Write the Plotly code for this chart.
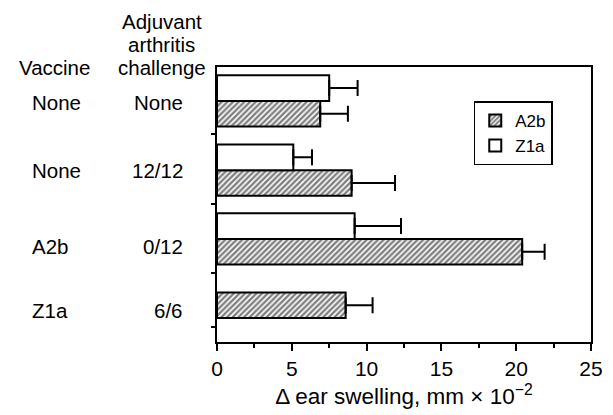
import plotly.graph_objects as go

# ---- data ----
vaccine = ["None", "None", "A2b", "Z1a"]
challenge = ["None", "12/12", "0/12", "6/6"]
a2b_mean = [6.9, 9.0, 20.4, 8.6]
a2b_err = [1.85, 2.9, 1.5, 1.8]
z1a_mean = [7.5, 5.1, 9.2, None]
z1a_err = [1.9, 1.25, 3.1, None]
x_ticks = [0, 5, 10, 15, 20, 25]

# ---- layout helpers (y axis in pixel-like units, 0 = bottom of the frame) ----
row_center = [245.5, 175, 105, 50.5]
label_y = [243.5, 175, 97, 32]
half = 13
bar_h = 26
boundary_ticks = [212, 141, 70, 15]

FONT = "Liberation Sans, Arial, Helvetica, sans-serif"
L, R, T, B = 217, 10, 67, 68
W, H = 613, 415
PW = W - L - R
PH = H - T - B


def px2paper(px):
    return (px - L) / PW


def py2paper(py):
    return (H - B - py) / PH


fig = go.Figure()

fig.add_trace(go.Bar(
    name="A2b", orientation="h",
    x=a2b_mean, y=[c - half for c in row_center], width=bar_h,
    marker=dict(color="white", line=dict(color="black", width=2),
                pattern=dict(shape="/", fgcolor="black", bgcolor="white",
                             size=4, solidity=0.6)),
    error_x=dict(type="data", array=a2b_err, arrayminus=[0] * 4,
                 symmetric=False, color="black", thickness=2, width=8),
))
fig.add_trace(go.Bar(
    name="Z1a", orientation="h",
    x=z1a_mean, y=[c + half for c in row_center], width=bar_h,
    marker=dict(color="white", line=dict(color="black", width=2)),
    error_x=dict(type="data", array=z1a_err, arrayminus=[0] * 4,
                 symmetric=False, color="black", thickness=2, width=8),
))

ann = []
for v, c, y in zip(vaccine, challenge, label_y):
    ann.append(dict(text=v, x=px2paper(24), xref="paper", xanchor="left",
                    y=y, yref="y", yanchor="middle", showarrow=False,
                    font=dict(size=20.5)))
    ann.append(dict(text=c, x=px2paper(184), xref="paper", xanchor="right",
                    y=y, yref="y", yanchor="middle", showarrow=False,
                    font=dict(size=20.5)))
ann.append(dict(text="Vaccine", x=px2paper(11), xref="paper", xanchor="left",
                y=py2paper(68), yref="paper", yanchor="middle", showarrow=False,
                font=dict(size=20.5)))
for txt, py in [("Adjuvant", 21), ("arthritis", 44), ("challenge", 68)]:
    ann.append(dict(text=txt, x=px2paper(160), xref="paper", xanchor="center",
                    y=py2paper(py), yref="paper", yanchor="middle", showarrow=False,
                    font=dict(size=20.5)))

fig.update_layout(
    width=W, height=H,
    margin=dict(l=L, r=R, t=T, b=B),
    paper_bgcolor="white", plot_bgcolor="white",
    font=dict(family=FONT, color="black"),
    barmode="overlay",
    showlegend=True,
    legend=dict(x=px2paper(482), y=py2paper(102), xanchor="left", yanchor="top",
                bordercolor="black", borderwidth=1.5, bgcolor="white",
                font=dict(size=17), traceorder="normal", itemwidth=30),
    annotations=ann,
    xaxis=dict(range=[0, 25], tickvals=x_ticks, ticks="outside", ticklen=7,
               tickwidth=1.5, tickcolor="black", showline=True, linewidth=2,
               linecolor="black", mirror=True, showgrid=False, zeroline=False,
               tickfont=dict(size=21),
               minor=dict(dtick=2.5, ticks="outside", ticklen=4, tickwidth=1.5,
                          tickcolor="black", showgrid=False),
               title=dict(text="Δ ear swelling, mm × 10<sup>−2</sup>",
                          font=dict(size=22.5), standoff=9)),
    yaxis=dict(range=[0, 280], tickvals=boundary_ticks, ticks="outside",
               ticklen=4, tickwidth=1.5, tickcolor="black", showticklabels=False,
               showline=True, linewidth=2, linecolor="black", mirror=True,
               showgrid=False, zeroline=False),
)

fig.write_html("out.html")
